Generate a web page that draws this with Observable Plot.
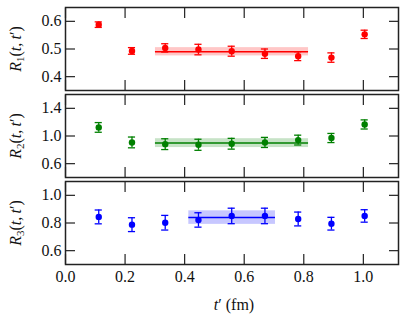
<!DOCTYPE html>
<html>
<head>
<meta charset="utf-8">
<script src="https://cdn.jsdelivr.net/npm/d3@7"></script>
<script src="https://cdn.jsdelivr.net/npm/@observablehq/plot@0.6"></script>
<style>
  html, body { margin: 0; padding: 0; background: #fff; }
  #wrap { position: relative; width: 406px; height: 320px; font-family: "Liberation Serif", "Times New Roman", serif; color: #111; }
  .pan { position: absolute; left: 0; }
  .ylab { position: absolute; font-family: "Liberation Serif", serif; font-size: 16px; line-height: 1; white-space: nowrap; transform: translate(-50%, -50%) rotate(-90deg); }
  .ylab sub { font-size: 11px; vertical-align: -3px; line-height: 1; }
  .xlab { position: absolute; font-family: "Liberation Serif", serif; font-size: 16px; line-height: 1; white-space: nowrap; transform: translateX(-50%); }
</style>
</head>
<body>
<div id="wrap"></div>
<script>
// ---- data ----
const tPrime = [0.1116, 0.2232, 0.3348, 0.4464, 0.558, 0.6696, 0.7812, 0.8928, 1.0044];

const R1 = [0.588, 0.493, 0.504, 0.498, 0.492, 0.483, 0.474, 0.469, 0.553];
const R1err = [0.010, 0.012, 0.015, 0.019, 0.018, 0.017, 0.016, 0.017, 0.015];
const R1fit = {x1: 0.302, x2: 0.816, value: 0.490, err: 0.015};

const R2 = [1.124, 0.907, 0.882, 0.873, 0.888, 0.907, 0.941, 0.971, 1.167];
const R2err = [0.070, 0.078, 0.078, 0.080, 0.078, 0.073, 0.071, 0.066, 0.066];
const R2fit = {x1: 0.302, x2: 0.816, value: 0.897, err: 0.064};

const R3 = [0.844, 0.788, 0.802, 0.822, 0.851, 0.851, 0.829, 0.795, 0.851];
const R3err = [0.050, 0.050, 0.053, 0.052, 0.056, 0.056, 0.050, 0.046, 0.045];
const R3fit = {x1: 0.414, x2: 0.705, value: 0.839, err: 0.049};

const xTicks = [0, 0.2, 0.4, 0.6, 0.8, 1.0];
const y1Ticks = [0.4, 0.5, 0.6];
const y2Ticks = [0.6, 1.0, 1.4];
const y3Ticks = [0.6, 0.8, 1.0];

const yLabels = ["1", "2", "3"];
const colors = ["#ff0000", "#008000", "#0000ff"];
const xLabel = "(fm)";

// ---- drawing ----
const wrap = document.getElementById("wrap");
const capW = 0.012;
const fmt = d3.format(".1f");
const axisColor = "#222";
const serif = '"Liberation Serif", "Times New Roman", serif';

function panel({vals, errs, fit, color, yDomain, yTicks, top, height, mTop, mBottom, showX}) {
  const data = tPrime.map((x, i) => ({x, y: vals[i], e: errs[i]}));
  const marks = [
    Plot.rect([fit], {x1: "x1", x2: "x2", y1: d => d.value - d.err, y2: d => d.value + d.err, fill: color, fillOpacity: 0.22}),
    Plot.ruleY([fit], {y: "value", x1: "x1", x2: "x2", stroke: color, strokeWidth: 1.5}),
    Plot.ruleX(data, {x: "x", y1: d => d.y - d.e, y2: d => d.y + d.e, stroke: color, strokeWidth: 1.3}),
    Plot.ruleY(data, {y: d => d.y + d.e, x1: d => d.x - capW, x2: d => d.x + capW, stroke: color, strokeWidth: 1.3}),
    Plot.ruleY(data, {y: d => d.y - d.e, x1: d => d.x - capW, x2: d => d.x + capW, stroke: color, strokeWidth: 1.3}),
    Plot.dot(data, {x: "x", y: "y", r: 3.2, fill: color}),
    Plot.axisX(xTicks, {anchor: "bottom", tickSize: -10, tickFormat: () => "", stroke: axisColor, strokeWidth: 1.2}),
    Plot.axisX(xTicks, {anchor: "top", tickSize: -10, tickFormat: () => "", stroke: axisColor, strokeWidth: 1.2}),
    Plot.axisY(yTicks, {anchor: "left", tickSize: -10, tickFormat: () => "", stroke: axisColor, strokeWidth: 1.2}),
    Plot.axisY(yTicks, {anchor: "right", tickSize: -10, tickFormat: () => "", stroke: axisColor, strokeWidth: 1.2}),
    Plot.axisY(yTicks, {anchor: "left", tickSize: 0, tickPadding: 4, tickFormat: fmt, fill: "#111", fontSize: 16, fontFamily: serif}),
    Plot.frame({stroke: axisColor, strokeWidth: 1.5})
  ];
  if (showX) {
    marks.push(Plot.axisX(xTicks, {anchor: "bottom", tickSize: 0, tickPadding: 6, tickFormat: fmt, fill: "#111", fontSize: 16, fontFamily: serif}));
  }
  const svg = Plot.plot({
    width: 406,
    height,
    marginLeft: 65,
    marginRight: 8,
    marginTop: mTop,
    marginBottom: mBottom,
    style: {fontFamily: serif, fontSize: "16px", background: "transparent", overflow: "visible"},
    x: {domain: [0, 1.118], axis: null},
    y: {domain: yDomain, axis: null},
    marks
  });
  svg.classList.add("pan");
  svg.style.top = top + "px";
  wrap.appendChild(svg);
}

panel({vals: R1, errs: R1err, fit: R1fit, color: colors[0], yDomain: [0.35, 0.65], yTicks: y1Ticks, top: 0, height: 92, mTop: 7, mBottom: 2});
panel({vals: R2, errs: R2err, fit: R2fit, color: colors[1], yDomain: [0.4, 1.6], yTicks: y2Ticks, top: 92, height: 87, mTop: 2, mBottom: 2});
panel({vals: R3, errs: R3err, fit: R3fit, color: colors[2], yDomain: [0.5, 1.1], yTicks: y3Ticks, top: 179, height: 141, mTop: 2, mBottom: 56, showX: true});

const centers = [48.5, 135.5, 222.5];
yLabels.forEach((s, i) => {
  const d = document.createElement("div");
  d.className = "ylab";
  d.style.left = "17px";
  d.style.top = centers[i] + "px";
  d.innerHTML = `<i>R</i><sub>${s}</sub>(<i>t</i>,&#8201;<i>t</i>&#8242;)`;
  wrap.appendChild(d);
});
const xl = document.createElement("div");
xl.className = "xlab";
xl.style.left = "234px";
xl.style.top = "297px";
xl.innerHTML = `<i>t</i>&#8242; ${xLabel}`;
wrap.appendChild(xl);
</script>
</body>
</html>
